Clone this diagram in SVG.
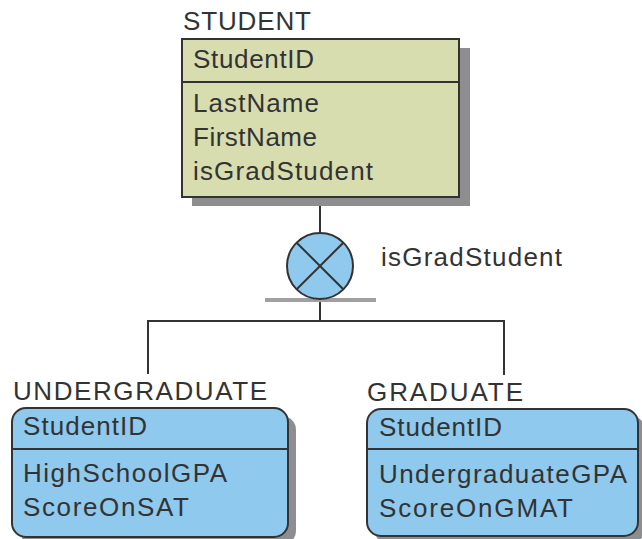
<svg xmlns="http://www.w3.org/2000/svg" width="642" height="539" viewBox="0 0 642 539">
<style>
text{font-family:"Liberation Sans",Arial,sans-serif;font-size:26px;fill:#333}
.shadow{fill:#8e8e90}
.ent{fill:#d8ddb0;stroke:#333;stroke-width:2}
.sub{fill:#8fc9ed;stroke:#333;stroke-width:2}
.div{stroke:#333;stroke-width:2}
.conn{stroke:#333;stroke-width:2;fill:none}
</style>
<rect width="642" height="539" fill="#fff"/>
<g id="connectors">
<line class="conn" x1="320" y1="197" x2="320" y2="233"/>
<line class="conn" x1="320" y1="300" x2="320" y2="321"/>
<polyline class="conn" points="148,374 148,321 504,321 504,375"/>
</g>
<g id="student">
<text x="183" y="30" textLength="128" lengthAdjust="spacing">STUDENT</text>
<rect class="shadow" x="192" y="48" width="278" height="158"/>
<rect class="ent" x="182" y="39" width="277" height="158"/>
<line class="div" x1="182" y1="82" x2="459" y2="82"/>
<text x="193" y="68" textLength="121" lengthAdjust="spacing">StudentID</text>
<text x="193" y="112" textLength="126" lengthAdjust="spacing">LastName</text>
<text x="193" y="146" textLength="124" lengthAdjust="spacing">FirstName</text>
<text x="193" y="180" textLength="180" lengthAdjust="spacing">isGradStudent</text>
</g>
<g id="category">
<line x1="265" y1="300" x2="376" y2="300" stroke="#a0a0a0" stroke-width="4"/>
<circle cx="320" cy="266" r="33" fill="#8fc9ed" stroke="#333" stroke-width="2"/>
<line class="conn" x1="296.7" y1="242.7" x2="343.3" y2="289.3"/>
<line class="conn" x1="343.3" y1="242.7" x2="296.7" y2="289.3"/>
<text x="381" y="266" textLength="181" lengthAdjust="spacing">isGradStudent</text>
</g>
<g id="undergraduate">
<text x="13" y="400" textLength="254" lengthAdjust="spacing">UNDERGRADUATE</text>
<rect class="shadow" x="20" y="416" width="276" height="129" rx="14"/>
<rect class="sub" x="12" y="408" width="276" height="129" rx="14"/>
<line class="div" x1="12" y1="449" x2="288" y2="449"/>
<text x="23" y="435" textLength="124" lengthAdjust="spacing">StudentID</text>
<text x="23" y="482" textLength="204" lengthAdjust="spacing">HighSchoolGPA</text>
<text x="23" y="516" textLength="166" lengthAdjust="spacing">ScoreOnSAT</text>
</g>
<g id="graduate">
<text x="367" y="401" textLength="156" lengthAdjust="spacing">GRADUATE</text>
<rect class="shadow" x="374" y="416" width="271" height="127" rx="14"/>
<rect class="sub" x="367" y="409" width="271" height="127" rx="14"/>
<line class="div" x1="367" y1="449" x2="638" y2="449"/>
<text x="379" y="436" textLength="123" lengthAdjust="spacing">StudentID</text>
<text x="379" y="483" textLength="248" lengthAdjust="spacing">UndergraduateGPA</text>
<text x="379" y="517" textLength="194" lengthAdjust="spacing">ScoreOnGMAT</text>
</g>
</svg>
